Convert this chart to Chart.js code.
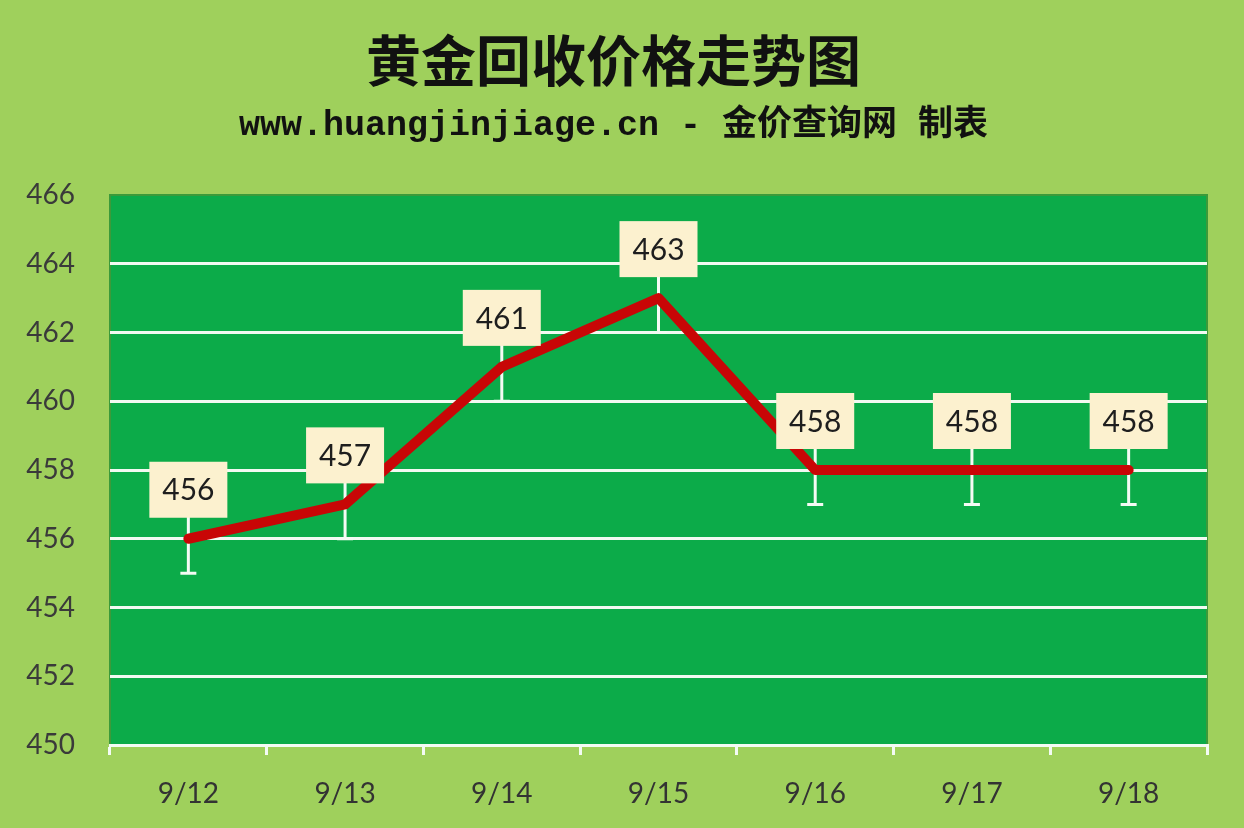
<!DOCTYPE html>
<html>
<head>
<meta charset="utf-8">
<script src="https://cdn.jsdelivr.net/npm/chart.js@4"></script>
<style>
  html, body { margin: 0; padding: 0; background: #9fd05c; }
  #wrap { width: 1244px; height: 828px; }
</style>
</head>
<body>
<div id="wrap"><canvas id="goldChart"></canvas></div>
<script>
const dates = ['9/12', '9/13', '9/14', '9/15', '9/16', '9/17', '9/18'];
const prices = [456, 457, 461, 463, 458, 458, 458];
const errorSize = 1;
const yMin = 450;
const yMax = 466;
const yStep = 2;

// plot area fill, drawn under everything
const plotBg = {
  id: 'plotBg',
  beforeDraw(chart) {
    const { ctx, chartArea: a } = chart;
    ctx.save();
    ctx.fillStyle = '#0cab49';
    ctx.fillRect(a.left, a.top, a.right - a.left, a.bottom - a.top);
    ctx.strokeStyle = '#3c9a3a';
    ctx.lineWidth = 2;
    ctx.strokeRect(a.left, a.top, a.right - a.left, a.bottom - a.top);
    ctx.restore();
  }
};

// white error bars (+/- 1) behind the line
const errorBars = {
  id: 'errorBars',
  beforeDatasetsDraw(chart) {
    const { ctx } = chart;
    const x = chart.scales.x, y = chart.scales.y;
    ctx.save();
    ctx.strokeStyle = '#f4fbf4';
    ctx.lineWidth = 3;
    prices.forEach((v, i) => {
      const px = x.getPixelForValue(i);
      const top = y.getPixelForValue(v + errorSize);
      const bot = y.getPixelForValue(v - errorSize);
      ctx.beginPath();
      ctx.moveTo(px, top); ctx.lineTo(px, bot);
      ctx.moveTo(px - 8, top); ctx.lineTo(px + 8, top);
      ctx.moveTo(px - 8, bot); ctx.lineTo(px + 8, bot);
      ctx.stroke();
    });
    ctx.restore();
  }
};

// cream value boxes above each point
const valueBoxes = {
  id: 'valueBoxes',
  afterDatasetsDraw(chart) {
    const { ctx } = chart;
    const meta = chart.getDatasetMeta(0);
    ctx.save();
    ctx.font = '30px Lato, "Open Sans", sans-serif';
    ctx.textAlign = 'center';
    ctx.textBaseline = 'middle';
    meta.data.forEach((pt, i) => {
      const w = 78, h = 56;
      const bx = pt.x - w / 2, by = pt.y - 21 - h;
      ctx.fillStyle = '#fcf1cf';
      ctx.fillRect(bx, by, w, h);
      ctx.fillStyle = '#1e1e1e';
      ctx.fillText(String(prices[i]), pt.x, by + h / 2 + 1);
    });
    ctx.restore();
  }
};

new Chart(document.getElementById('goldChart'), {
  type: 'line',
  data: {
    labels: dates,
    datasets: [{
      data: prices,
      borderColor: '#c80606',
      borderWidth: 10,
      borderCapStyle: 'round',
      borderJoinStyle: 'round',
      tension: 0,
      pointRadius: 0,
      fill: false
    }]
  },
  options: {
    responsive: true,
    maintainAspectRatio: false,
    animation: false,
    layout: { padding: { top: 20, right: 37, bottom: 0, left: 20 } },
    plugins: {
      legend: { display: false },
      tooltip: { enabled: false },
      title: {
        display: true,
        text: '黄金回收价格走势图',
        color: '#111',
        font: { family: '"Noto Sans CJK SC", sans-serif', size: 55, weight: 'bold' },
        padding: { top: 7, bottom: 7 }
      },
      subtitle: {
        display: true,
        text: 'www.huangjinjiage.cn - 金价查询网 制表',
        color: '#111',
        font: { family: '"Liberation Mono", "Noto Sans CJK SC", monospace', size: 35, weight: 'bold' },
        padding: { top: 5, bottom: 48 }
      }
    },
    scales: {
      x: {
        offset: true,
        border: { display: true, color: '#f4fbf4', width: 3 },
        grid: {
          offset: true,
          drawOnChartArea: false,
          drawTicks: true,
          tickLength: 10,
          color: '#f4fbf4',
          lineWidth: 3
        },
        ticks: {
          color: '#333',
          font: { family: 'Lato, "Open Sans", sans-serif', size: 28 },
          padding: 22
        },
        afterFit(s) { s.height = 83; }
      },
      y: {
        min: yMin,
        max: yMax,
        border: { display: false },
        grid: {
          drawTicks: false,
          lineWidth: 3,
          color: ctx => ctx.tick && ctx.tick.value === yMax ? 'rgba(0,0,0,0)' : '#f2faf2'
        },
        ticks: {
          stepSize: yStep,
          color: '#3a3a3a',
          font: { family: 'Lato, "Open Sans", sans-serif', size: 28 },
          padding: 35
        },
        afterFit(s) { s.width = 90; }
      }
    }
  },
  plugins: [plotBg, errorBars, valueBoxes]
});
</script>
</body>
</html>
